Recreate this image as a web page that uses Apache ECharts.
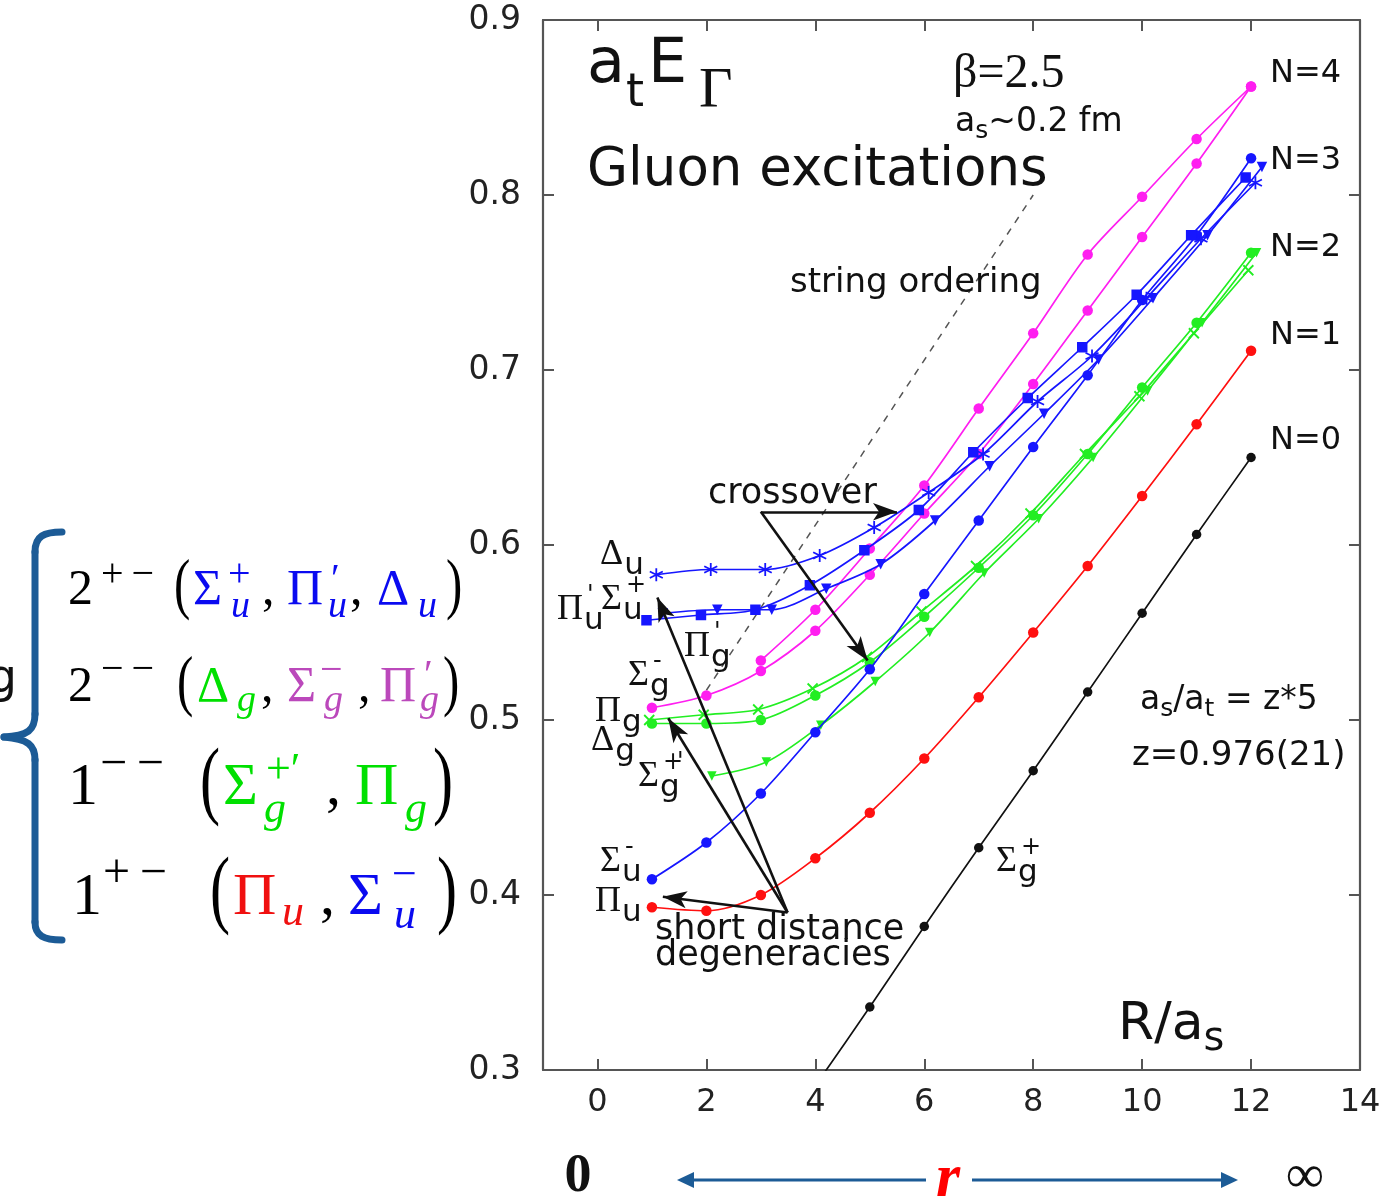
<!DOCTYPE html>
<html>
<head>
<meta charset="utf-8">
<title>Gluon excitations</title>
<script src="https://cdn.jsdelivr.net/npm/echarts@6.0.0/dist/echarts.min.js"></script>
<style>
  html, body { margin: 0; padding: 0; background: #ffffff; }
  #chart { width: 1384px; height: 1204px; }
</style>
</head>
<body>
<div id="chart"></div>
<script>
// ---- separations R/a_s (markers of near-degenerate levels are nudged sideways) ----
const R_SIGMA_G_PLUS = [4, 5, 6, 7, 8, 9, 10, 11, 12];
const R_FULL = [1, 2, 3, 4, 5, 6, 7, 8, 9, 10, 11, 12];
const R_FROM3 = [3, 4, 5, 6, 7, 8, 9, 10, 11, 12];
const R_DELTA_U = [1.08, 2.08, 3.08, 4.08, 5.08, 6.08, 7.08, 8.08, 9.08, 10.08, 11.08, 12.08];
const R_PI_U_PRIME = [0.9, 1.9, 2.9, 3.9, 4.9, 5.9, 6.9, 7.9, 8.9, 9.9, 10.9, 11.9];
const R_SIGMA_U_PLUS = [1.2, 2.2, 3.2, 4.2, 5.2, 6.2, 7.2, 8.2, 9.2, 10.2, 11.2, 12.2];
const R_DELTA_G = [0.95, 1.95, 2.95, 3.95, 4.95, 5.95, 6.95, 7.95, 8.95, 9.95, 10.95, 11.95];
const R_SIGMA_G_PLUS_PRIME = [2.1, 3.1, 4.1, 5.1, 6.1, 7.1, 8.1, 9.1, 10.1, 11.1, 12.1];

// ---- energies a_t E_Gamma ----
const E_SIGMA_G_PLUS = [0.291, 0.336, 0.382, 0.427, 0.471, 0.516, 0.561, 0.606, 0.650];
const E_PI_U = [0.393, 0.391, 0.400, 0.421, 0.447, 0.478, 0.513, 0.550, 0.588, 0.628, 0.669, 0.711];
const E_SIGMA_U_MINUS = [0.409, 0.430, 0.458, 0.493, 0.529, 0.572, 0.614, 0.656, 0.697, 0.740, 0.777, 0.821];
const E_DELTA_U = [0.583, 0.586, 0.586, 0.594, 0.610, 0.630, 0.652, 0.682, 0.708, 0.741, 0.775, 0.807];
const E_PI_U_PRIME = [0.557, 0.560, 0.563, 0.577, 0.597, 0.620, 0.653, 0.684, 0.713, 0.743, 0.777, 0.810];
const E_SIGMA_U_PLUS = [0.561, 0.563, 0.563, 0.575, 0.589, 0.614, 0.645, 0.675, 0.706, 0.741, 0.777, 0.816];
const E_SIGMA_G_MINUS = [0.507, 0.514, 0.528, 0.551, 0.583, 0.618, 0.652, 0.692, 0.734, 0.776, 0.818, 0.862];
const E_PI_G_PRIME = [0.534, 0.563, 0.598, 0.634, 0.678, 0.721, 0.766, 0.799, 0.832, 0.862];
const E_PI_G = [0.498, 0.498, 0.500, 0.514, 0.533, 0.559, 0.587, 0.617, 0.652, 0.690, 0.727, 0.767];
const E_DELTA_G = [0.500, 0.503, 0.506, 0.518, 0.536, 0.562, 0.588, 0.618, 0.652, 0.685, 0.721, 0.757];
const E_SIGMA_G_PLUS_PRIME = [0.468, 0.476, 0.497, 0.522, 0.550, 0.584, 0.615, 0.650, 0.688, 0.727, 0.767];

// ---- axis ticks ----
const X_TICKS = [0, 2, 4, 6, 8, 10, 12, 14];

// ---- guide line and arrows (in R/a_s, a_t E units) ----
const STRING_ORDERING = [[2.0, 0.517], [8.0, 0.800]];
const CROSSOVER_FROM = [3.0, 0.619];
const CROSSOVER_TO = [[5.5, 0.619], [4.96, 0.534]];
const DEGENERACY_FROM = [3.49, 0.390];
const DEGENERACY_TO = [[1.2, 0.399], [1.1, 0.570], [1.3, 0.501]];

const SANS = '"DejaVu Sans", sans-serif';
const SERIF = '"Liberation Serif", "DejaVu Serif", serif';

const C_BLACK = '#111111', C_RED = '#ff1010', C_BLUE = '#1616ff', C_MAG = '#ff1ef0', C_GREEN = '#22ee22';
const F_BLUE = '#0a0af0', F_GREEN = '#00e000', F_MAG = '#bb48bb', F_RED = '#f01010', BRACE = '#1c5b96';

const ASTERISK = 'path://M10,0 L10,20 M1.34,5 L18.66,15 M1.34,15 L18.66,5';
const CROSS = 'path://M0,0 L20,20 M0,20 L20,0';

const measureCtx = document.createElement('canvas').getContext('2d');
function textWidth(text, size, family, italic) {
  measureCtx.font = (italic ? 'italic ' : '') + size + 'px ' + family;
  return measureCtx.measureText(text).width;
}

function level(name, xs, ys, color, symbol, opts) {
  const o = opts || {};
  const stroked = symbol === ASTERISK || symbol === CROSS;
  return {
    name: name,
    type: 'line',
    data: xs.map((x, i) => [x, ys[i]]),
    smooth: 0.3,
    symbol: symbol,
    symbolSize: o.size || 10.5,
    symbolRotate: o.rotate || 0,
    showAllSymbol: true,
    clip: true,
    lineStyle: { color: color, width: 1.7 },
    itemStyle: stroked ? { color: 'rgba(0,0,0,0)', borderColor: color, borderWidth: 1.8 } : { color: color },
    emphasis: { disabled: true },
    z: o.z || 3
  };
}

function txt(x, y, text, size, opts) {
  const o = opts || {};
  const el = {
    type: 'text', x: x, y: y, silent: true, z: 50,
    style: {
      text: text,
      fontSize: size,
      fontFamily: o.family || SANS,
      fontStyle: o.italic ? 'italic' : 'normal',
      fontWeight: o.bold ? 'bold' : 'normal',
      fill: o.color || C_BLACK,
      align: o.align || 'left',
      verticalAlign: 'middle'
    }
  };
  if (o.scaleX) { el.scaleX = o.scaleX; }
  return el;
}

// text pieces laid out one after another: [text, size, dy]
function seq(x, y, parts, family) {
  const out = [];
  let cx = x;
  parts.forEach(p => {
    out.push(txt(cx, y + (p[2] || 0), p[0], p[1], { family: family || SANS }));
    cx += textWidth(p[0], p[1], family || SANS);
  });
  return out;
}

// one formula row: [x, y, text, size, color, italic, scaleX]
function row(items) {
  return items.map(it => txt(it[0], it[1], it[2], it[3], {
    family: SERIF, color: it[4] || '#000', italic: !!it[5], scaleX: it[6]
  }));
}

const graphics = [];

// plot annotations
graphics.push(
  txt(587, 66, 'a', 62), txt(626, 94, 't', 46), txt(648, 66, 'E', 62), txt(699, 92, 'Γ', 58, { family: SERIF }),
  txt(587, 171, 'Gluon excitations', 53),
  txt(953, 74, 'β=2.5', 48, { family: SERIF }),
  ...seq(955, 122, [['a', 33], ['s', 25, 9], ['~0.2 fm', 33]]),
  txt(790, 283, 'string ordering', 34),
  txt(708, 494, 'crossover', 35),
  txt(655, 930, 'short distance', 35),
  txt(655, 956, 'degeneracies', 35),
  txt(1270, 74, 'N=4', 32), txt(1270, 161, 'N=3', 32), txt(1270, 248, 'N=2', 32),
  txt(1270, 336, 'N=1', 32), txt(1270, 441, 'N=0', 32),
  ...seq(1140, 700, [['a', 33], ['s', 25, 9], ['/a', 33], ['t', 25, 9], [' = z*5', 33]]),
  txt(1132, 756, 'z=0.976(21)', 34),
  ...seq(1118, 1025, [['R/a', 52], ['s', 40, 15]])
);

// state labels next to the curves
function state(x, y, greek, sub, sup, extra) {
  const out = [txt(x, y, greek, 36, { family: SERIF })];
  const sx = x + textWidth(greek, 36, SERIF) + 1;
  out.push(txt(sx, y + 11, sub, 31));
  if (sup) out.push(txt(sx + 3, y - 14, sup, 24));
  if (extra) out.push(txt(sx + 17, y - 14, extra, 24));
  return out;
}
graphics.push(
  ...state(600, 555, 'Δ', 'u'),
  ...state(601, 600, 'Σ', 'u', '+'),
  ...state(557, 610, 'Π', 'u', "'"),
  ...state(684, 647, 'Π', 'g', "'"),
  ...state(628, 676, 'Σ', 'g', '-'),
  ...state(595, 712, 'Π', 'g'),
  ...state(591, 741, 'Δ', 'g'),
  ...state(638, 777, 'Σ', 'g', '+', "'"),
  ...state(600, 862, 'Σ', 'u', '-'),
  ...state(595, 902, 'Π', 'u'),
  ...state(996, 862, 'Σ', 'g', '+')
);

// quantum-number groups to the left of the plot
const TS = '\u2009';
graphics.push(
  txt(17, 680, 'g', 46, { align: 'right' }),
  ...row([
    [68, 591, '2', 50], [101, 575, '+' + TS + '−', 40], [174, 588, '(', 68, null, false, 0.72],
    [193, 591, 'Σ', 50, F_BLUE], [228, 575, '+', 40, F_BLUE], [231, 607, 'u', 38, F_BLUE, true], [262, 591, ',', 50],
    [287, 591, 'Π', 50, F_BLUE], [331, 580, '′', 40, F_BLUE], [328, 607, 'u', 38, F_BLUE, true], [350, 591, ',', 50],
    [377, 591, 'Δ', 50, F_BLUE], [418, 607, 'u', 38, F_BLUE, true], [446, 588, ')', 68, null, false, 0.72]
  ]),
  ...row([
    [68, 688, '2', 50], [101, 670, '−' + TS + '−', 40], [177, 685, '(', 68, null, false, 0.72],
    [197, 688, 'Δ', 50, F_GREEN], [237, 701, 'g', 38, F_GREEN, true], [261, 688, ',', 50],
    [287, 688, 'Σ', 50, F_MAG], [320, 671, '−', 40, F_MAG], [324, 701, 'g', 38, F_MAG, true], [358, 688, ',', 50],
    [380, 688, 'Π', 50, F_MAG], [424, 676, '′', 40, F_MAG], [420, 701, 'g', 38, F_MAG, true], [443, 685, ')', 68, null, false, 0.72]
  ]),
  ...row([
    [68, 788, '1', 60], [100, 765, '−' + TS + '−', 48], [200, 785, '(', 86, null, false, 0.7],
    [223, 788, 'Σ', 60, F_GREEN], [266, 771, '+′', 44, F_GREEN], [264, 810, 'g', 44, F_GREEN, true], [326, 788, ',', 60],
    [355, 788, 'Π', 60, F_GREEN], [405, 810, 'g', 44, F_GREEN, true], [433, 785, ')', 86, null, false, 0.7]
  ]),
  ...row([
    [72, 898, '1', 60], [103, 874, '+' + TS + '−', 48], [210, 894, '(', 86, null, false, 0.7],
    [233, 898, 'Π', 60, F_RED], [282, 913, 'u', 44, F_RED, true], [320, 898, ',', 60],
    [348, 898, 'Σ', 60, F_BLUE], [392, 876, '−', 44, F_BLUE], [394, 916, 'u', 44, F_BLUE, true], [437, 894, ')', 86, null, false, 0.7]
  ])
);

// curly brace grouping the rows
const braceStyle = { fill: 'none', stroke: BRACE, lineWidth: 7, lineCap: 'round' };
[
  { type: 'bezierCurve', shape: { x1: 62, y1: 532, cpx1: 44, cpy1: 532, cpx2: 35, cpy2: 536, x2: 35, y2: 552 } },
  { type: 'line', shape: { x1: 35, y1: 552, x2: 35, y2: 714 } },
  { type: 'bezierCurve', shape: { x1: 35, y1: 714, cpx1: 35, cpy1: 730, cpx2: 28, cpy2: 736, x2: 4, y2: 737 } },
  { type: 'bezierCurve', shape: { x1: 4, y1: 737, cpx1: 28, cpy1: 739, cpx2: 35, cpy2: 745, x2: 35, y2: 760 } },
  { type: 'line', shape: { x1: 35, y1: 760, x2: 35, y2: 922 } },
  { type: 'bezierCurve', shape: { x1: 35, y1: 922, cpx1: 35, cpy1: 936, cpx2: 44, cpy2: 940, x2: 62, y2: 940 } }
].forEach(el => graphics.push(Object.assign(el, { silent: true, z: 40, style: braceStyle })));

// separation scale under the x axis: 0 <-- r --> infinity
graphics.push(
  txt(578, 1177, '0', 54, { family: SERIF, bold: true, align: 'center' }),
  txt(948, 1180, 'r', 62, { family: SERIF, bold: true, italic: true, color: '#ff0000', align: 'center' }),
  txt(1305, 1178, '∞', 54, { family: SERIF, align: 'center' }),
  { type: 'line', silent: true, z: 40, shape: { x1: 690, y1: 1180, x2: 926, y2: 1180 }, style: { stroke: BRACE, lineWidth: 3 } },
  { type: 'line', silent: true, z: 40, shape: { x1: 972, y1: 1180, x2: 1224, y2: 1180 }, style: { stroke: BRACE, lineWidth: 3 } },
  { type: 'polygon', silent: true, z: 40, shape: { points: [[677, 1180], [694, 1172], [694, 1188]] }, style: { fill: BRACE } },
  { type: 'polygon', silent: true, z: 40, shape: { points: [[1238, 1180], [1221, 1172], [1221, 1188]] }, style: { fill: BRACE } }
);

const arrowData = CROSSOVER_TO.map(p => [{ coord: CROSSOVER_FROM }, { coord: p }])
  .concat(DEGENERACY_TO.map(p => [{ coord: DEGENERACY_FROM }, { coord: p }]));

const axisCommon = {
  type: 'value',
  axisLine: { show: true, onZero: false, lineStyle: { color: '#555', width: 2.2 } },
  axisTick: { show: true, inside: true, length: 11, lineStyle: { color: '#555', width: 2 } },
  splitLine: { show: false }
};

const option = {
  animation: false,
  backgroundColor: '#ffffff',
  grid: { left: 543, top: 20, width: 817, height: 1050, outerBoundsMode: 'none' },
  xAxis: [
    Object.assign({}, axisCommon, {
      position: 'bottom', min: -1, max: 14,
      axisTick: Object.assign({}, axisCommon.axisTick, { customValues: X_TICKS }),
      axisLabel: { customValues: X_TICKS, margin: 17, fontFamily: SANS, fontSize: 32, color: '#222' }
    }),
    Object.assign({}, axisCommon, {
      position: 'top', min: -1, max: 14,
      axisTick: Object.assign({}, axisCommon.axisTick, { customValues: X_TICKS }),
      axisLabel: { show: false }
    })
  ],
  yAxis: [
    Object.assign({}, axisCommon, {
      position: 'left', min: 0.3, max: 0.9, interval: 0.1,
      axisLabel: { margin: 22, fontFamily: SANS, fontSize: 33, color: '#222', formatter: v => v.toFixed(1) }
    }),
    Object.assign({}, axisCommon, {
      position: 'right', min: 0.3, max: 0.9, interval: 0.1,
      axisLabel: { show: false }
    })
  ],
  series: [
    {
      name: 'string ordering', type: 'line', data: STRING_ORDERING, symbol: 'none', z: 2,
      lineStyle: { color: '#555', width: 1.5, type: [7, 7] },
      emphasis: { disabled: true },
      markLine: {
        silent: true, symbol: ['none', 'arrow'], symbolSize: [13, 24],
        lineStyle: { color: '#111', width: 2.6, type: 'solid' },
        label: { show: false }, emphasis: { disabled: true },
        data: arrowData
      }
    },
    level('Σg+', R_SIGMA_G_PLUS, E_SIGMA_G_PLUS, C_BLACK, 'circle', { size: 9.5 }),
    level('Πu', R_FULL, E_PI_U, C_RED, 'circle'),
    level('Σg+\'', R_SIGMA_G_PLUS_PRIME, E_SIGMA_G_PLUS_PRIME, C_GREEN, 'triangle', { rotate: 180, size: 9.5 }),
    level('Δg', R_DELTA_G, E_DELTA_G, C_GREEN, CROSS, { size: 10 }),
    level('Πg', R_FULL, E_PI_G, C_GREEN, 'circle'),
    level('Σg-', R_FULL, E_SIGMA_G_MINUS, C_MAG, 'circle'),
    level('Πg\'', R_FROM3, E_PI_G_PRIME, C_MAG, 'circle'),
    level('Σu-', R_FULL, E_SIGMA_U_MINUS, C_BLUE, 'circle', { z: 4 }),
    level('Δu', R_DELTA_U, E_DELTA_U, C_BLUE, ASTERISK, { size: 13, z: 4 }),
    level('Πu\'', R_PI_U_PRIME, E_PI_U_PRIME, C_BLUE, 'rect', { size: 10.5, z: 4 }),
    level('Σu+', R_SIGMA_U_PLUS, E_SIGMA_U_PLUS, C_BLUE, 'triangle', { rotate: 180, size: 10.5, z: 4 })
  ],
  graphic: { elements: graphics }
};

const chart = echarts.init(document.getElementById('chart'), null, { renderer: 'canvas' });
chart.setOption(option);
</script>
</body>
</html>
